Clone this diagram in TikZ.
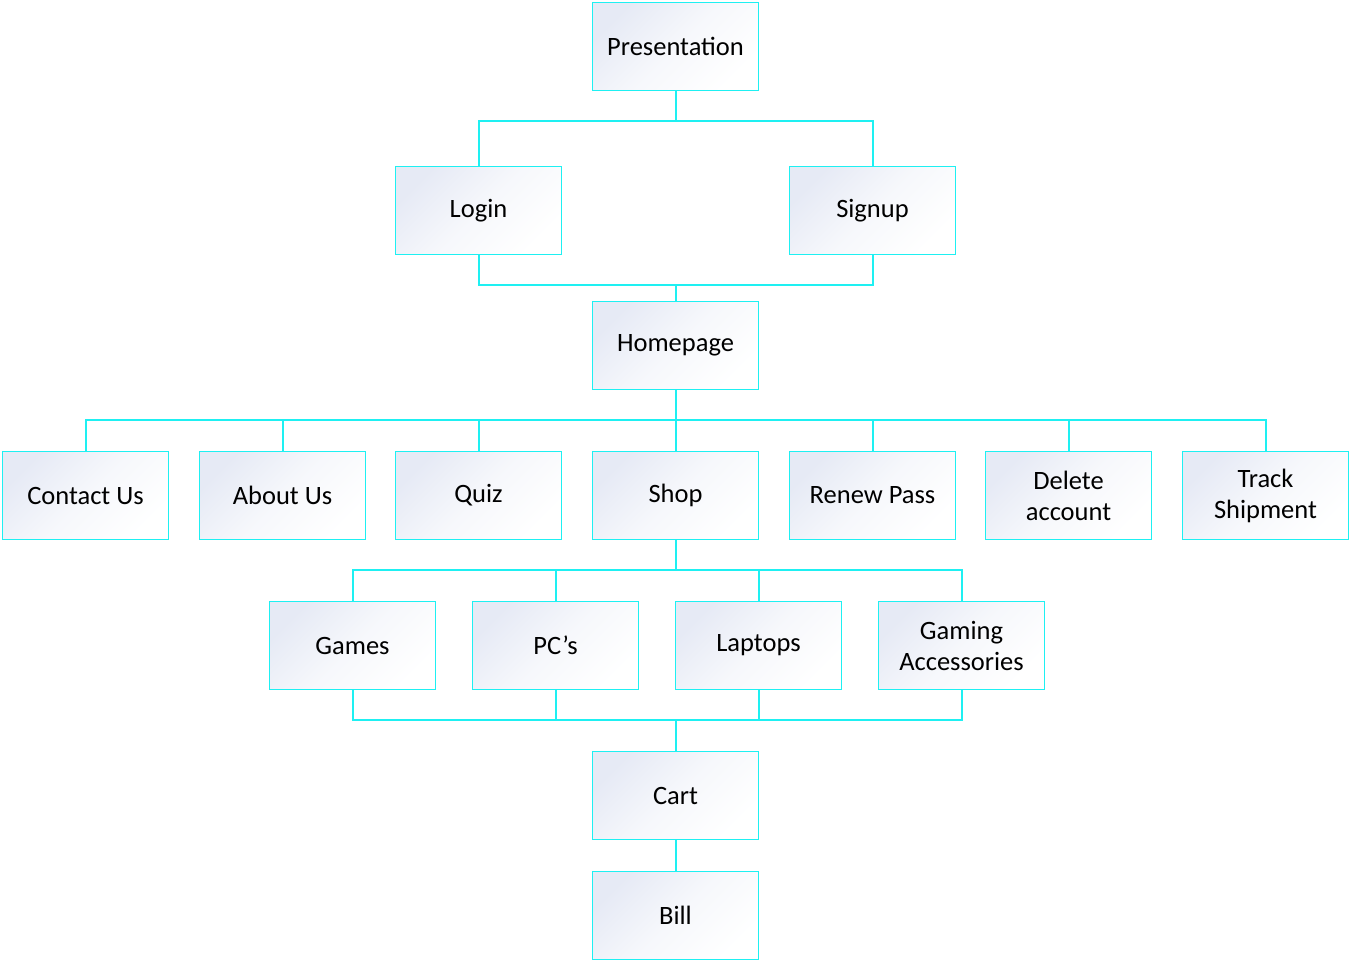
\documentclass[tikz,border=0pt]{standalone}
\usepackage{fontspec}
\setmainfont{Carlito}
\definecolor{edge}{RGB}{30,240,242}
\definecolor{shadeA}{RGB}{230,234,245}
\begin{document}
\begin{tikzpicture}[x=1pt,y=-1pt,
  box/.style={draw=edge,line width=1.4pt,minimum width=166pt,minimum height=88pt,
    inner sep=0pt,align=center,top color=shadeA,bottom color=white,middle color=shadeA!35!white,shading angle=45,
    font=\fontsize{26.5}{31}\selectfont},
  conn/.style={draw=edge,line width=2pt}]
\useasboundingbox (0,0) rectangle (1351,962);
\node[box] (pres) at (675.5,46.5) {Presentation};
\node[box] (login) at (478.5,210.5) {Login};
\node[box] (signup) at (872.5,210.5) {Signup};
\node[box] (home) at (675.5,345.5) {Homepage};
\node[box] (contact) at (85.5,495.5) {Contact Us};
\node[box] (about) at (282.5,495.5) {About Us};
\node[box] (quiz) at (478.5,495.5) {Quiz};
\node[box] (shop) at (675.5,495.5) {Shop};
\node[box] (renew) at (872.5,495.5) {Renew Pass};
\node[box] (delete) at (1068.5,495.5) {Delete\\account};
\node[box] (track) at (1265.5,495.5) {Track\\Shipment};
\node[box] (games) at (352.5,645.5) {Games};
\node[box] (pcs) at (555.5,645.5) {PC’s};
\node[box] (laptops) at (758.5,645.5) {Laptops};
\node[box] (gaming) at (961.5,645.5) {Gaming\\Accessories};
\node[box] (cart) at (675.5,795.5) {Cart};
\node[box] (bill) at (675.5,915.5) {Bill};
% connectors
\draw[conn] (pres.south) -- ++(0,30) coordinate (j1);
\draw[conn] (login.north) |- (j1) -| (signup.north);
\draw[conn] (login.south) |- (home.north |- 0,285) coordinate (j2) -| (signup.south);
\draw[conn] (j2) -- (home.north);
\draw[conn] (home.south) -- ++(0,30) coordinate (j3);
\foreach \n in {contact,about,quiz,renew,delete,track}
  \draw[conn] (\n.north) |- (j3);
\draw[conn] (j3) -- (shop.north);
\draw[conn] (shop.south) -- ++(0,30) coordinate (j4);
\foreach \n in {games,pcs,laptops,gaming}
  \draw[conn] (\n.north) |- (j4);
\coordinate (j5) at (675.5,720);
\foreach \n in {games,pcs,laptops,gaming}
  \draw[conn] (\n.south) |- (j5);
\draw[conn] (j5) -- (cart.north);
\draw[conn] (cart.south) -- (bill.north);
\end{tikzpicture}
\end{document}
